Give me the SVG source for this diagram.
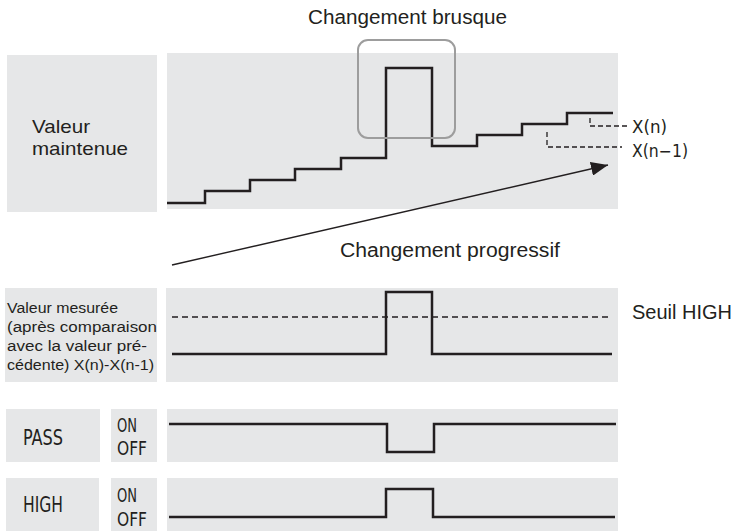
<svg xmlns="http://www.w3.org/2000/svg" width="739" height="531" viewBox="0 0 739 531">
<style>
.box{fill:#e6e7e8}
.sig{fill:none;stroke:#231f20;stroke-width:2.5;stroke-linejoin:miter}
.dash{fill:none;stroke:#231f20;stroke-width:1.3;stroke-dasharray:6 4}
.t{font-family:"Liberation Sans",Arial,sans-serif;fill:#231f20}
.c{font-family:"DejaVu Sans Condensed","DejaVu Sans","Liberation Sans",sans-serif;fill:#231f20}
</style>
<defs>
<marker id="ahb" viewBox="0 0 17 14" refX="17" refY="7" markerWidth="17" markerHeight="14" orient="auto" markerUnits="userSpaceOnUse">
<path d="M0,0 L17,7 L0,14 Z" fill="#231f20"/>
</marker>
</defs>
<rect width="739" height="531" fill="#ffffff"/>

<g id="top-label">
<rect class="box" x="7" y="55" width="150" height="157"/>
<text class="t" font-size="19" x="32" y="133" textLength="58" lengthAdjust="spacingAndGlyphs">Valeur</text>
<text class="t" font-size="19" x="32" y="155" textLength="96" lengthAdjust="spacingAndGlyphs">maintenue</text>
</g>

<g id="top-chart">
<rect class="box" x="167" y="53" width="451" height="156"/>
<polyline class="sig" points="167,203 205,203 205,191 250,191 250,180 295,180 295,169 341,169 341,158 386,158 386,68 432,68 432,146 477,146 477,135 522,135 522,124 567,124 567,113 613,113"/>
<rect x="358" y="40" width="97" height="98" rx="10" ry="10" fill="none" stroke="#9d9d9d" stroke-width="2"/>
<text class="t" font-size="20" x="308" y="24" textLength="199" lengthAdjust="spacingAndGlyphs">Changement brusque</text>
<polyline class="dash" style="stroke-dasharray:5 3" points="590,118 590,126 628,126"/>
<polyline class="dash" style="stroke-dasharray:5 3" points="547,132 547,147 622,147"/>
<text class="c" font-size="17" x="632" y="133" textLength="35" lengthAdjust="spacingAndGlyphs">X(n)</text>
<text class="c" font-size="17" x="632" y="157" textLength="56" lengthAdjust="spacingAndGlyphs">X(n−1)</text>
</g>

<g id="connectors">
<line x1="172" y1="265" x2="608" y2="165" stroke="#231f20" stroke-width="1.4" marker-end="url(#ahb)"/>
</g>
<text class="t" font-size="20" x="340" y="257" textLength="220" lengthAdjust="spacingAndGlyphs">Changement progressif</text>

<g id="measured-label">
<rect class="box" x="5" y="288" width="152" height="94"/>
<text class="t" font-size="15.5" x="7" y="313" textLength="111" lengthAdjust="spacingAndGlyphs">Valeur mesurée</text>
<text class="t" font-size="15.5" x="7" y="332" textLength="150" lengthAdjust="spacingAndGlyphs">(après comparaison</text>
<text class="t" font-size="15.5" x="7" y="351" textLength="140" lengthAdjust="spacingAndGlyphs">avec la valeur pré-</text>
<text class="t" font-size="15.5" x="7" y="370" textLength="147" lengthAdjust="spacingAndGlyphs">cédente) X(n)-X(n-1)</text>
</g>

<g id="measured-chart">
<rect class="box" x="166" y="288" width="452" height="94"/>
<line class="dash" x1="172" y1="317" x2="612" y2="317"/>
<polyline class="sig" points="172,354 386,354 386,292 432,292 432,354 612,354"/>
<text class="t" font-size="20" x="632" y="319" textLength="100" lengthAdjust="spacingAndGlyphs">Seuil HIGH</text>
</g>

<g id="pass-row">
<rect class="box" x="6" y="409" width="94" height="53"/>
<rect class="box" x="111" y="409" width="46" height="53"/>
<rect class="box" x="167" y="409" width="451" height="53"/>
<text class="c" font-size="22" x="23" y="445" textLength="40" lengthAdjust="spacingAndGlyphs">PASS</text>
<text class="c" font-size="20" x="117" y="432" textLength="20" lengthAdjust="spacingAndGlyphs">ON</text>
<text class="c" font-size="20" x="117" y="455" textLength="30" lengthAdjust="spacingAndGlyphs">OFF</text>
<polyline class="sig" points="169,424 387,424 387,452 434,452 434,424 616,424"/>
</g>

<g id="high-row">
<rect class="box" x="6" y="478" width="93" height="53"/>
<rect class="box" x="111" y="478" width="46" height="53"/>
<rect class="box" x="167" y="478" width="451" height="53"/>
<text class="c" font-size="22" x="23" y="512" textLength="40" lengthAdjust="spacingAndGlyphs">HIGH</text>
<text class="c" font-size="20" x="117" y="502" textLength="20" lengthAdjust="spacingAndGlyphs">ON</text>
<text class="c" font-size="20" x="117" y="526" textLength="30" lengthAdjust="spacingAndGlyphs">OFF</text>
<polyline class="sig" points="169,517 386,517 386,489 433,489 433,517 615,517"/>
</g>
</svg>
